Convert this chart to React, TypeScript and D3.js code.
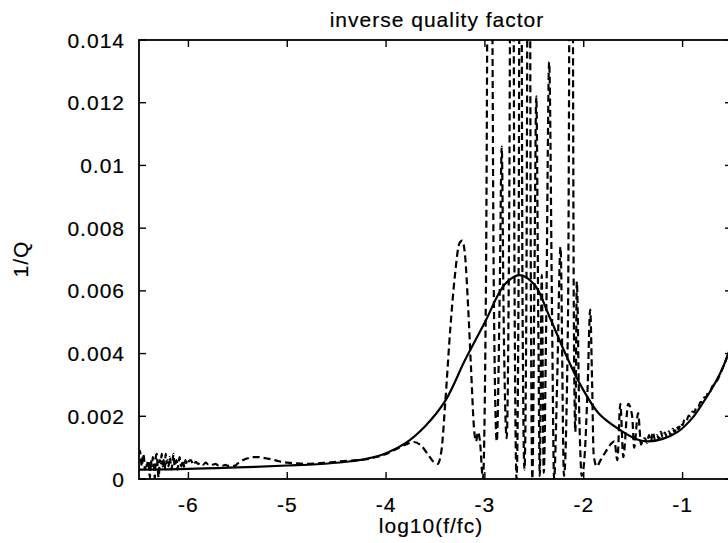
import React from "react";
import * as d3 from "d3";

// ---- axis ticks ----
const xTicks = [-6, -5, -4, -3, -2, -1];
const xTickLabels = ["-6", "-5", "-4", "-3", "-2", "-1"];
const yTicks = [0, 0.002, 0.004, 0.006, 0.008, 0.01, 0.012, 0.014];
const yTickLabels = ["0", "0.002", "0.004", "0.006", "0.008", "0.01", "0.012", "0.014"];

// ---- smooth fitted curve (solid) ----
const fitX = [-6.5, -6.0, -5.5, -5.0, -4.7, -4.4, -4.2, -4.0, -3.8, -3.6, -3.4, -3.2, -3.0, -2.8, -2.65, -2.5, -2.35, -2.2, -2.05, -1.85, -1.65, -1.45, -1.35, -1.2, -1.05, -0.9, -0.8, -0.7, -0.6, -0.55, -0.5];
const fitQ = [0.0003, 0.00032, 0.00037, 0.00043, 0.00047, 0.00055, 0.00064, 0.00082, 0.00115, 0.0017, 0.0025, 0.0038, 0.005, 0.0062, 0.0065, 0.0062, 0.0052, 0.0041, 0.0031, 0.0021, 0.0016, 0.00125, 0.0012, 0.00128, 0.0015, 0.00195, 0.0024, 0.0029, 0.0035, 0.0039, 0.0043];

// ---- measured curve (dashed), low-frequency noisy part ----
const lowX = [-6.5, -6.49, -6.48, -6.47, -6.46, -6.45, -6.44, -6.43, -6.42, -6.41, -6.4, -6.39, -6.38, -6.37, -6.36, -6.35, -6.34, -6.33, -6.32, -6.31, -6.3, -6.29, -6.28, -6.27, -6.26, -6.25, -6.24, -6.23, -6.22, -6.21, -6.2, -6.19, -6.18, -6.17, -6.16, -6.15, -6.14, -6.13, -6.12, -6.11, -6.1, -6.09, -6.08, -6.07, -6.06, -6.05, -6.04, -6.03, -6.02, -6.01, -6.0, -5.975, -5.95, -5.925, -5.9, -5.875, -5.85, -5.825, -5.8, -5.775, -5.75, -5.725, -5.7, -5.675, -5.65, -5.625, -5.6, -5.575, -5.55, -5.525];
const lowQ = [0.0008, 0.0009, 0.0006, 0.0004, 0.0008, 0.0007, 0.0003, 0.0005, 0.0004, 0.0006, 0.0005, 0.00005, 0.0006, 0.0004, 0.0007, 0.0005, 0.00003, 0.0007, 0.0008, 0.0003, 0.00005, 0.0006, 0.0005, 0.0008, 0.0004, 0.0006, 0.0003, 0.0008, 0.0005, 0.0006, 0.0004, 0.0007, 0.0005, 0.0003, 0.0006, 0.0008, 0.0004, 0.0005, 0.0006, 0.0003, 0.0005, 0.0007, 0.0005, 0.0004, 0.0006, 0.0005, 0.00035, 0.0006, 0.0005, 0.00045, 0.00055, 0.0006, 0.00045, 0.00055, 0.00048, 0.00053, 0.00046, 0.00052, 0.00047, 0.0005, 0.00046, 0.00048, 0.00044, 0.00046, 0.00043, 0.00045, 0.00042, 0.00043, 0.00041, 0.00043];

// ---- measured curve, bump and approach to resonance ----
const midLowX = [-5.5, -5.45, -5.4, -5.35, -5.3, -5.25, -5.2, -5.15, -5.1, -5.05, -5.0, -4.9, -4.8, -4.7, -4.6, -4.5, -4.4, -4.3, -4.2, -4.1, -4.0, -3.9, -3.8, -3.72, -3.65, -3.58, -3.52, -3.48, -3.44, -3.4, -3.35, -3.3, -3.26, -3.23, -3.2, -3.17, -3.14, -3.11, -3.09, -3.07, -3.05];
const midLowQ = [0.0005, 0.0006, 0.00066, 0.0007, 0.0007, 0.00068, 0.00065, 0.00062, 0.00058, 0.00054, 0.00052, 0.0005, 0.00048, 0.0005, 0.00052, 0.00055, 0.00058, 0.0006, 0.00063, 0.0007, 0.0008, 0.00095, 0.0011, 0.00118, 0.00108, 0.0008, 0.00055, 0.00048, 0.0009, 0.0025, 0.0048, 0.0066, 0.0075, 0.0076, 0.0071, 0.0055, 0.0035, 0.0016, 0.0012, 0.0015, 0.0012];

// ---- measured curve, resonance oscillations ----
const resX = [-3.02, -2.99, -2.95, -2.91, -2.88, -2.85, -2.83, -2.81, -2.78, -2.755, -2.725, -2.7, -2.68, -2.66, -2.64, -2.62, -2.6, -2.58, -2.555, -2.535, -2.52, -2.5, -2.48, -2.46, -2.445, -2.425, -2.405, -2.38, -2.35, -2.32, -2.3, -2.27, -2.235, -2.2, -2.16, -2.125, -2.1, -2.085, -2.07, -2.045, -2.02, -1.99, -1.96, -1.935, -1.915, -1.9];
const resQ = [0, 0.006, 0.03, 0.006, 0.0012, 0.006, 0.0106, 0.005, 0.0013, 0.008, 0.03, 0.006, 0, 0.006, 0.03, 0.006, 0.0003, 0.006, 0.03, 0.006, 0, 0.006, 0.0122, 0.005, 0.0001, 0.0065, 0.0002, 0.005, 0.0133, 0.005, 0, 0.003, 0.0074, 0.0001, 0.005, 0.03, 0.005, 0.0015, 0.0063, 0.002, 0.0001, 0.0008, 0.003, 0.0054, 0.003, 0.0008];

// ---- measured curve, high-frequency part ----
const highX = [-1.87, -1.83, -1.78, -1.73, -1.69, -1.66, -1.63, -1.6, -1.55, -1.51, -1.49, -1.45, -1.42, -1.4, -1.38, -1.36, -1.34, -1.32, -1.3, -1.28, -1.26, -1.24, -1.22, -1.2, -1.18, -1.16, -1.14, -1.12, -1.1, -1.08, -1.06, -1.04, -1.02, -1.0, -0.98, -0.96, -0.94, -0.92, -0.9, -0.88, -0.86, -0.84, -0.82, -0.8, -0.78, -0.76, -0.74, -0.72, -0.7, -0.68, -0.66, -0.64, -0.62, -0.6, -0.58, -0.56, -0.54, -0.52, -0.5];
const highQ = [0.0004, 0.0006, 0.00086, 0.0011, 0.0012, 0.0006, 0.0024, 0.0007, 0.0024, 0.002, 0.001, 0.0021, 0.0011, 0.0013, 0.0013, 0.00115, 0.0014, 0.0012, 0.0015, 0.00125, 0.0014, 0.00128, 0.0015, 0.00132, 0.00148, 0.00135, 0.00152, 0.0014, 0.0016, 0.0015, 0.00168, 0.00158, 0.00178, 0.00172, 0.0019, 0.00185, 0.00202, 0.002, 0.00215, 0.00213, 0.0023, 0.0023, 0.00245, 0.00245, 0.0026, 0.00262, 0.00278, 0.0028, 0.00295, 0.003, 0.0031, 0.0032, 0.00335, 0.0035, 0.00365, 0.0038, 0.00395, 0.0041, 0.00425];

const W = 728;
const H = 543;
const L = 139;
const R = 732;
const T = 40;
const B = 479;
const FONT = "'Liberation Sans', Arial, Helvetica, sans-serif";

export default function App() {
  const x = d3.scaleLinear().domain([-6.5, -0.5]).range([L, R]);
  const y = d3.scaleLinear().domain([0, 0.014]).range([B, T]);

  const fitPts: [number, number][] = fitX.map((v, i) => [v, fitQ[i]]);
  const dataXs = [...lowX, ...midLowX, ...resX, ...highX];
  const dataQs = [...lowQ, ...midLowQ, ...resQ, ...highQ];
  const dataPts: [number, number][] = dataXs.map((v, i) => [v, dataQs[i]]);

  const fitLine = d3
    .line<[number, number]>()
    .x((d) => x(d[0]))
    .y((d) => y(d[1]))
    .curve(d3.curveCatmullRom.alpha(0.5));
  const dataLine = d3
    .line<[number, number]>()
    .x((d) => x(d[0]))
    .y((d) => y(d[1]))
    .curve(d3.curveMonotoneX);

  const tl = 7;
  const textProps = {
    fontSize: 21,
    letterSpacing: 1,
    fill: "#000",
    stroke: "#000",
    strokeWidth: 0.2,
  };

  return (
    <svg
      width={W}
      height={H}
      style={{ position: "absolute", left: 0, top: 0, background: "#fff" }}
      fontFamily={FONT}
    >
      <defs>
        <clipPath id="plot">
          <rect x={L} y={T} width={R - L} height={B - T} />
        </clipPath>
      </defs>
      <rect x={0} y={0} width={W} height={H} fill="#fff" />

      <g clipPath="url(#plot)">
        <path d={fitLine(fitPts) || ""} fill="none" stroke="#000" strokeWidth={2.2} />
        <path
          d={dataLine(dataPts) || ""}
          fill="none"
          stroke="#000"
          strokeWidth={2.2}
          strokeDasharray="7 4"
        />
      </g>

      {/* frame */}
      <rect x={L} y={T} width={R - L} height={B - T} fill="none" stroke="#000" strokeWidth={1.8} />

      {/* x ticks */}
      {xTicks.map((t) => (
        <g key={"xt" + t}>
          <line x1={x(t)} x2={x(t)} y1={B} y2={B - tl} stroke="#000" strokeWidth={1.4} />
          <line x1={x(t)} x2={x(t)} y1={T} y2={T + tl} stroke="#000" strokeWidth={1.4} />
        </g>
      ))}
      {/* y ticks */}
      {yTicks.map((t) => (
        <g key={"yt" + t}>
          <line x1={L} x2={L + tl} y1={y(t)} y2={y(t)} stroke="#000" strokeWidth={1.4} />
          <line x1={R} x2={R - tl} y1={y(t)} y2={y(t)} stroke="#000" strokeWidth={1.4} />
        </g>
      ))}

      {/* tick labels */}
      {xTicks.map((t, i) => (
        <text key={"xl" + t} x={x(t)} y={512} textAnchor="middle" {...textProps}>
          {xTickLabels[i]}
        </text>
      ))}
      {yTicks.map((t, i) => (
        <text key={"yl" + t} x={125} y={y(t) + 7.5} textAnchor="end" {...textProps}>
          {yTickLabels[i]}
        </text>
      ))}

      {/* title and axis labels */}
      <text x={437} y={27} textAnchor="middle" {...textProps}>
        inverse quality factor
      </text>
      <text x={431} y={533} textAnchor="middle" {...textProps}>
        log10(f/fc)
      </text>
      <text x={0} y={0} transform="translate(28,259) rotate(-90)" textAnchor="middle" {...textProps}>
        1/Q
      </text>
    </svg>
  );
}
